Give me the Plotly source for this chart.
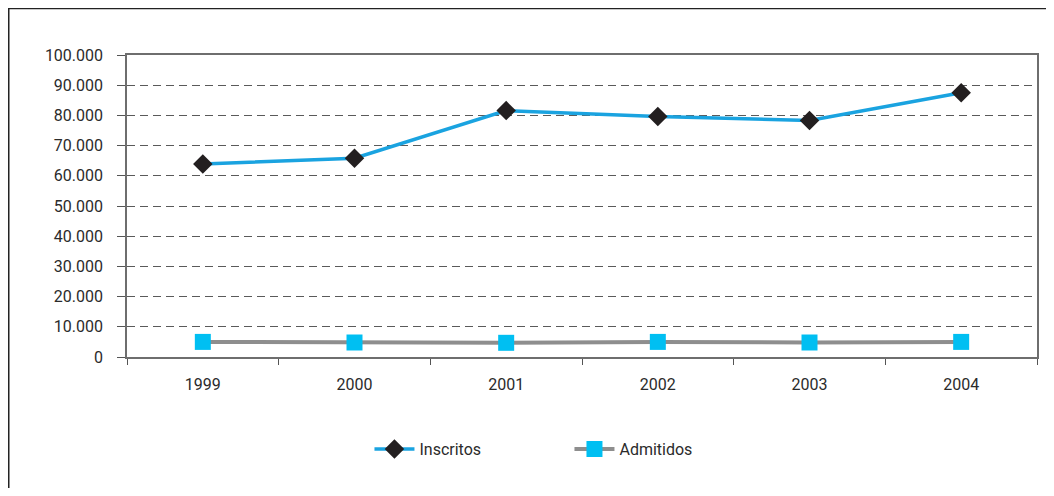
import plotly.graph_objects as go

years = ["1999", "2000", "2001", "2002", "2003", "2004"]
inscritos = [63900, 65800, 81600, 79600, 78300, 87500]
admitidos = [5000, 4800, 4700, 5000, 4800, 5000]
y_tickvals = [0, 10000, 20000, 30000, 40000, 50000, 60000, 70000, 80000, 90000, 100000]
y_ticktext = ["0", "10.000", "20.000", "30.000", "40.000", "50.000", "60.000",
              "70.000", "80.000", "90.000", "100.000"]

OFF = 8  # page body margin
W, H = 1038, 480
L, R, T, B = 127 - OFF, 1039 - OFF, 55 - OFF, 357 - OFF

def px(x):
    return (x - L) / (R - L)

def py(y):
    return (B - y) / (B - T)

font_family = "Roboto, 'DejaVu Sans Condensed', sans-serif"
txt_color = "#2b2b2b"

fig = go.Figure()
fig.add_trace(go.Scatter(
    x=years, y=inscritos, name="Inscritos", mode="lines+markers",
    line=dict(color="#1aa3e0", width=3.5),
    marker=dict(symbol="diamond", size=15, color="#231f20"),
))
fig.add_trace(go.Scatter(
    x=years, y=admitidos, name="Admitidos", mode="lines+markers",
    line=dict(color="#8e8e8e", width=4),
    marker=dict(symbol="square", size=16, color="#00bff2"),
))

fig.update_layout(
    width=W, height=H,
    margin=dict(l=L, r=W - R, t=T, b=H - B),
    paper_bgcolor="white", plot_bgcolor="white",
    font=dict(family=font_family, size=16, color=txt_color),
    showlegend=True,
    legend=dict(orientation="h", x=px(380 - OFF - 10), xanchor="left", y=py(449 - OFF), yanchor="middle",
                font=dict(size=16, color=txt_color), entrywidth=145, itemwidth=40),
    xaxis=dict(type="category", showgrid=False, showline=True, linecolor="#6e6e6e", linewidth=1.5,
               mirror=True, ticks="outside", tickson="boundaries", ticklen=6, tickcolor="#555",
               tickfont=dict(size=16, color=txt_color), ticklabelstandoff=12,
               range=[-0.5, 5.5]),
    yaxis=dict(range=[0, 100000], tickvals=y_tickvals, ticktext=y_ticktext,
               showgrid=True, gridcolor="#5a5a5a", gridwidth=1, griddash="8px,5px",
               showline=True, linecolor="#6e6e6e", linewidth=1.5, mirror=True,
               ticks="outside", ticklen=8, tickcolor="#555", zeroline=False,
               tickfont=dict(size=16, color=txt_color), ticklabelstandoff=11),
    shapes=[
        dict(type="line", xref="paper", yref="paper", x0=px(0), x1=px(W + 5), y0=py(0.5), y1=py(0.5),
             line=dict(color="#222", width=1.5)),
        dict(type="line", xref="paper", yref="paper", x0=px(0.5), x1=px(0.5), y0=py(0), y1=py(H + 5),
             line=dict(color="#222", width=1.5)),
    ],
)

fig.write_html("out.html")
